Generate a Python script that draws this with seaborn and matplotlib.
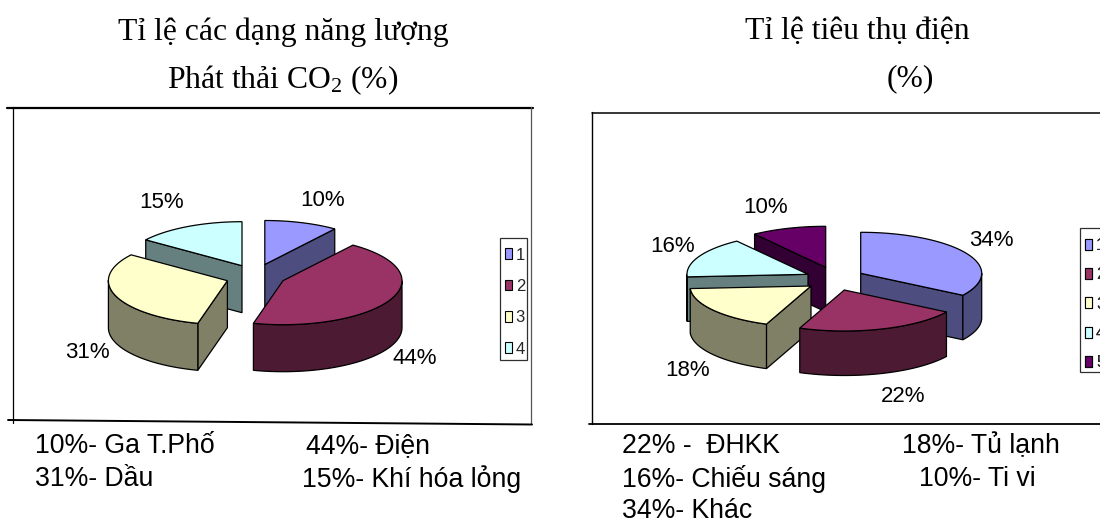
import seaborn as sns
import matplotlib
matplotlib.use('Agg')
import matplotlib.pyplot as plt
from matplotlib.patches import Patch, Rectangle
import numpy as np

# percent values
vals_co2 = [10, 44, 31, 15]
vals_elec = [34, 22, 18, 16, 10]
labels_co2 = ['10%', '44%', '31%', '15%']
labels_elec = ['34%', '22%', '18%', '16%', '10%']
legend_co2 = ['1', '2', '3', '4']
legend_elec = ['1', '2', '3', '4', '5']
colors = ['#9999FF', '#993366', '#FFFFCC', '#CCFFFF', '#660066']

title_co2 = ['Tỉ lệ các dạng năng lượng', 'Phát thải CO$_{2}$ (%)']
title_elec = ['Tỉ lệ tiêu thụ điện', '(%)']
notes_co2 = ['10%- Ga T.Phố', '44%- Điện', '31%- Dầu', '15%- Khí hóa lỏng']
notes_elec = ['22% -  ĐHKK', '18%- Tủ lạnh', '16%- Chiếu sáng', '10%- Ti vi', '34%- Khác']

sns.set_theme(style='white')
plt.rcParams['mathtext.default'] = 'regular'
SERIF = ['Liberation Serif', 'DejaVu Serif']
SANS = ['Liberation Sans', 'DejaVu Sans']


def draw_pie(ax, vals, apexes, order, rx, ry, depth):
    edges = np.cumsum([0] + vals) * 3.6
    pal = sns.color_palette(colors, len(colors))
    for i in order:
        cx, cy = apexes[i]
        a0, a1 = np.radians(edges[i]), np.radians(edges[i + 1])
        th = np.linspace(a0, a1, 80)
        arc_x = cx + rx * np.sin(th)
        arc_y = cy - ry * np.cos(th)
        side = tuple(np.array(pal[i]) * 0.5)

        # walls that face the viewer: radial edges and the lower part of the rim
        walls = []
        if arc_x[0] < cx:
            walls.append(([cx, arc_x[0]], [cy, arc_y[0]]))
        if arc_x[-1] > cx:
            walls.append(([arc_x[-1], cx], [arc_y[-1], cy]))
        front = np.diff(arc_x) < 0
        if front.any():
            idx = np.where(front)[0]
            walls.append((arc_x[idx[0]:idx[-1] + 2], arc_y[idx[0]:idx[-1] + 2]))
        for wx, wy in walls:
            wx, wy = np.asarray(wx), np.asarray(wy)
            ax.fill(np.r_[wx, wx[::-1]], np.r_[wy, wy[::-1] + depth],
                    facecolor=side, edgecolor='black', lw=0.9)
        ax.fill(np.r_[cx, arc_x], np.r_[cy, arc_y],
                facecolor=pal[i], edgecolor='black', lw=0.9)


def add_legend(ax, names, box, x, y, spacing):
    ax.add_patch(Rectangle(box[:2], box[2], box[3], facecolor='white', edgecolor='#303030', lw=0.9))
    handles = [Patch(facecolor=colors[i], edgecolor='black', lw=0.8) for i in range(len(names))]
    leg = ax.legend(handles, names, loc='upper left', bbox_to_anchor=(x, y),
                    bbox_transform=ax.transData, borderaxespad=0, borderpad=0,
                    frameon=False, handlelength=0.42, handleheight=0.62, handletextpad=0.22,
                    labelspacing=spacing, prop={'family': SANS, 'size': 12})
    ax.add_artist(leg)


fig = plt.figure(figsize=(11, 5.2), dpi=100)
ax = fig.add_axes([0, 0, 1, 1])
ax.set_xlim(0, 1100)
ax.set_ylim(520, 0)
ax.axis('off')

# titles
ax.text(283.5, 32, title_co2[0], family=SERIF, fontsize=22.8, ha='center', va='center', color='black')
ax.text(283, 80, title_co2[1], family=SERIF, fontsize=22.8, ha='center', va='center', color='black')
ax.text(857.5, 32, title_elec[0], family=SERIF, fontsize=22.8, ha='center', va='center', color='black')
ax.text(910, 79, title_elec[1], family=SERIF, fontsize=22.8, ha='center', va='center', color='black')

# chart frames
ax.plot([7, 533], [107.5, 107.5], color='black', lw=1.6)
ax.plot([12.5, 12.5], [107, 423], color='black', lw=0.9)
ax.plot([530.5, 530.5], [107, 424], color='#555555', lw=0.9)
ax.plot([8, 532], [420, 424.5], color='black', lw=1.4)
ax.plot([591.5, 1100], [112.5, 112.5], color='black', lw=1.1)
ax.plot([591.5, 591.5], [112, 424], color='black', lw=1.0)
ax.plot([589, 1100], [423.5, 423.5], color='black', lw=1.3)

# pies, back slices first
apex_co2 = [(264.8, 264.5), (283, 280.7), (227.4, 280.7), (242, 265.7)]
draw_pie(ax, vals_co2, apex_co2, [3, 0, 2, 1], 119, 44, 47)
apex_elec = [(860.7, 273.3), (844.3, 290), (811, 286), (808, 274.3), (825.7, 267.3)]
draw_pie(ax, vals_elec, apex_elec, [4, 3, 0, 2, 1], 121, 41, 44.5)

# data labels
pos_co2 = [(323, 201), (415, 359), (87, 352), (162, 202.5)]
pos_elec = [(991.7, 241), (903, 397), (687.7, 371), (672.3, 247), (765.7, 207.5)]
for lab, (x, y) in zip(labels_co2 + labels_elec, pos_co2 + pos_elec):
    ax.text(x, y, lab, family=SANS, fontsize=16, ha='center', va='center', color='black')

add_legend(ax, legend_co2, (499.5, 237.5, 27, 122.5), 505, 247.5, 0.98)
add_legend(ax, legend_elec, (1080, 228, 30, 144), 1085.3, 238, 0.86)

# notes under the charts
notes_pos_co2 = [(35, 446), (306, 446), (35, 479), (302, 479)]
notes_pos_elec = [(622, 446), (902, 446), (622, 479), (919, 479), (622, 511)]
for txt, (x, y) in zip(notes_co2 + notes_elec, notes_pos_co2 + notes_pos_elec):
    ax.text(x, y, txt, family=SANS, fontsize=19.2, ha='left', va='center', color='black')

fig.savefig('out.png', dpi=100)
